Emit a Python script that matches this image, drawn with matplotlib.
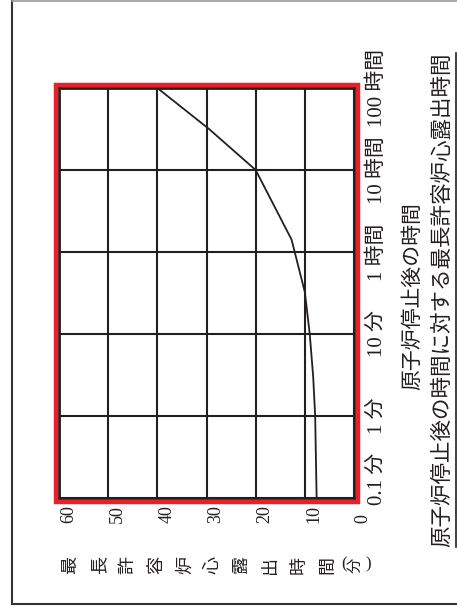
import matplotlib
matplotlib.use("Agg")
import matplotlib.pyplot as plt
import numpy as np
from matplotlib.lines import Line2D
from matplotlib.patches import Rectangle

plt.rcParams["font.family"] = ["Liberation Serif", "Noto Sans CJK JP"]

# time after shutdown (categories, equally spaced on the chart)
time_labels = ["0.1 分", "1 分", "10 分", "1 時間", "10 時間", "100 時間"]
time_minutes = [0.1, 1, 10, 60, 600, 6000]

# allowed core exposure time (min)
value_ticks = [0, 10, 20, 30, 40, 50, 60]
value_labels = ["0", "10", "20", "30", "40", "50", "60"]

# curve
curve_minutes = [0.1, 1, 3, 10, 25, 85, 600, 1900, 6000]
curve_values = [7.6, 7.9, 8.3, 9.0, 10.0, 12.7, 20.0, 29.5, 40.0]

ylabel_chars = ["最", "長", "許", "容", "炉", "心", "露", "出", "時", "間"]
xlabel = "原子炉停止後の時間"
title = "原子炉停止後の時間に対する最長許容炉心露出時間"

W, H = 457, 610
INK = "#231f20"


def fx(px):
    return px / W


def fy(py):
    return 1 - py / H


fig = plt.figure(figsize=(W / 100, H / 100), dpi=100)

ax = fig.add_axes([fx(59), fy(498), fx(354) - fx(59), fy(88) - fy(498)])
ax.set_xlim(60, 0)
ax.set_ylim(0, len(time_labels) - 1)
ax.set_xticks(value_ticks)
ax.set_yticks(range(len(time_labels)))
ax.grid(True, color=INK, linewidth=1.5)
ax.tick_params(length=0, labelbottom=False, labelleft=False)
for sp in ax.spines.values():
    sp.set_linewidth(2.0)
    sp.set_color(INK)

pos = np.interp(np.log10(curve_minutes), np.log10(time_minutes), np.arange(len(time_minutes)))
ax.plot(curve_values, pos, color=INK, linewidth=1.3, zorder=3)

# value labels below the frame (rotated with the whole sheet)
for v, lab in zip(value_ticks, value_labels):
    ax.text(v - 1.9, -0.061, lab, transform=ax.get_xaxis_transform(), rotation=90,
            rotation_mode="anchor", ha="left", va="center", fontsize=13, color=INK)

# time labels at the right side
for i, lab in enumerate(time_labels):
    if i == 0:
        ax.text(1.078, -0.085, lab, transform=ax.get_yaxis_transform(), rotation=90,
                rotation_mode="anchor", ha="left", va="center", fontsize=15, color=INK)
    else:
        ax.text(1.078, i, lab, transform=ax.get_yaxis_transform(), rotation=90,
                rotation_mode="anchor", ha="center", va="center", fontsize=15, color=INK)

fig.text(fx(413), fy(296), xlabel, rotation=90, ha="center", va="center", fontsize=15, color=INK)

t = fig.text(fx(443), fy(547), title, rotation=90, rotation_mode="anchor",
             ha="left", va="center", fontsize=15.5, color=INK)

# vertical y-label, each glyph turned with the sheet
for i, ch in enumerate(ylabel_chars):
    fig.text(fx(71 + i * 28.5), fy(565), ch, rotation=90, ha="center", va="center",
             fontsize=13, color=INK)
fig.text(fx(344), fy(564), "(", ha="center", va="center", fontsize=12, color=INK)
fig.text(fx(356), fy(565), "分", rotation=90, ha="center", va="center", fontsize=11, color=INK)
fig.text(fx(368), fy(564), ")", ha="center", va="center", fontsize=12, color=INK)

# red highlight box
fig.add_artist(Rectangle((fx(55.8), fy(502)), fx(357.5) - fx(55.8), fy(85.3) - fy(502),
                         transform=fig.transFigure, fill=False, edgecolor="#e8202a", linewidth=3.2))

# outer sheet frame
fig.add_artist(Line2D([fx(12), fx(12)], [fy(0), fy(604)], transform=fig.transFigure, color="#333333", linewidth=1.5))
fig.add_artist(Line2D([fx(12), 1], [fy(0.5), fy(0.5)], transform=fig.transFigure, color="#999999", linewidth=1.2))
fig.add_artist(Line2D([fx(12), 1], [fy(604), fy(604)], transform=fig.transFigure, color="#333333", linewidth=1.5))

# underline of the title
fig.canvas.draw()
bb = t.get_window_extent()
fig.add_artist(Line2D([fx(456), fx(456)], [bb.y0 / H, bb.y1 / H], transform=fig.transFigure,
                      color=INK, linewidth=1.2))

fig.savefig("out.png", dpi=100)
